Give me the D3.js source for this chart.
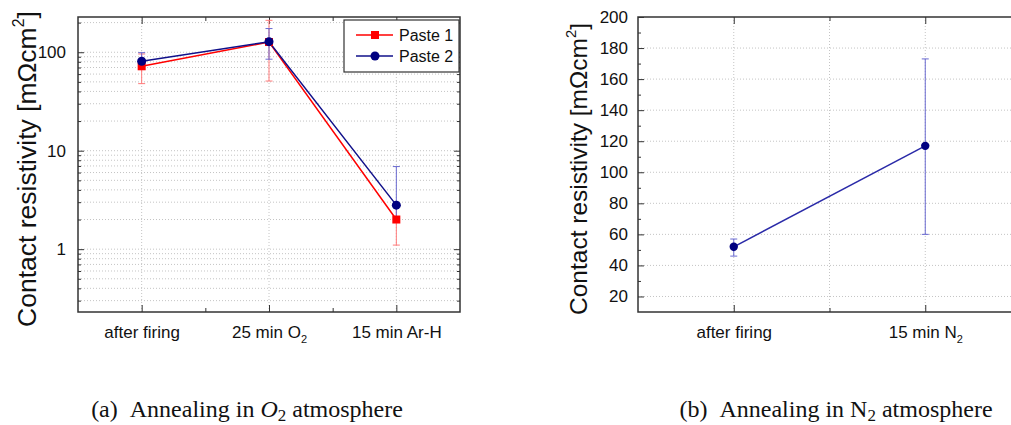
<!DOCTYPE html>
<meta charset="utf-8">
<script src="https://d3js.org/d3.v7.min.js"></script>
<style>
  body { margin: 0; background: #fff; }
  text { font-family: "Liberation Sans", Arial, sans-serif; fill: #111; }
  .grid line { stroke: #c4c4c4; stroke-width: 1; stroke-dasharray: 1,2; }
  .tk line { stroke: #333; stroke-width: 1; }
  .tk path { display: none; }
  .caption { font-family: "Liberation Serif", "Times New Roman", serif; font-size: 24px; }
</style>
<div id="chart"></div>
<script>

// ---- data ----
// (a) O2 anneal, log axis
var catsA = ["after firing", "25 min O_2", "15 min Ar-H"];
var paste1 = [72, 127, 2.0];
var paste1Lo = [48, 51, 1.1];
var paste1Hi = [96, 211, 2.9];
var paste2 = [81, 128, 2.8];
var paste2Lo = [67, 85, 2.0];
var paste2Hi = [99, 174, 6.9];
var majorA = [1, 10, 100];

// (b) N2 anneal, linear axis
var catsB = ["after firing", "15 min N_2"];
var n2 = [52, 117];
var n2Lo = [46, 60];
var n2Hi = [57, 173];
var ticksB = [20, 40, 60, 80, 100, 120, 140, 160, 180, 200];

var svg = d3.select("#chart")
  .append("svg")
    .attr("width", 1011)
    .attr("height", 425);

// write "xx_2" as text with a subscript
function subText(sel, str, size) {
  var parts = str.split("_");
  sel.text(null);
  sel.append("tspan").text(parts[0]);
  if (parts.length > 1) {
    sel.append("tspan").attr("dy", 5).style("font-size", size + "px").text(parts[1]);
  }
}

function ylabel(x, y, size) {
  var t = svg.append("text")
    .attr("transform", "translate(" + x + "," + y + ") rotate(-90)")
    .attr("text-anchor", "middle")
    .style("font-size", size + "px");
  t.append("tspan").text("Contact resistivity [m\u03A9cm");
  t.append("tspan").attr("dy", -size * 0.45).style("font-size", (size * 0.6) + "px").text("2");
  t.append("tspan").attr("dy", size * 0.45).text("]");
}

function errorBars(g, x, y, vals, lo, hi, color) {
  vals.forEach(function(v, i) {
    var cx = x(i + 1);
    g.append("line").attr("x1", cx).attr("x2", cx).attr("y1", y(lo[i])).attr("y2", y(hi[i]))
      .attr("stroke", color).attr("stroke-width", 1);
    [lo[i], hi[i]].forEach(function(e) {
      g.append("line").attr("x1", cx - 3.5).attr("x2", cx + 3.5).attr("y1", y(e)).attr("y2", y(e))
        .attr("stroke", color).attr("stroke-width", 1);
    });
  });
}

// ================= panel (a) =================
var xa = d3.scaleLinear().domain([0.5, 3.5]).range([78, 460]);
var ya = d3.scaleLog().domain([0.23, 228]).range([312, 17]);
var ga = svg.append("g");

// grid
var allA = ya.ticks();
ga.append("g").attr("class", "grid").selectAll("line")
  .data(allA).enter().append("line")
    .attr("x1", xa(0.5)).attr("x2", xa(3.5))
    .attr("y1", function(d) { return ya(d); }).attr("y2", function(d) { return ya(d); });
ga.append("g").attr("class", "grid").selectAll("line")
  .data([1, 2, 3]).enter().append("line")
    .attr("x1", function(d) { return xa(d); }).attr("x2", function(d) { return xa(d); })
    .attr("y1", 17).attr("y2", 312);

// ticks (all pointing inward)
var minorA = allA.filter(function(d) { return majorA.indexOf(d) < 0; });
ga.append("g").attr("class", "tk").attr("transform", "translate(78,0)")
  .call(d3.axisLeft(ya).tickValues(majorA).tickSize(-6).tickPadding(12).tickFormat(d3.format("d")))
  .selectAll("text").style("font-size", "17px");
ga.append("g").attr("class", "tk").attr("transform", "translate(78,0)")
  .call(d3.axisLeft(ya).tickValues(minorA).tickSize(-3).tickFormat(""));
ga.append("g").attr("class", "tk").attr("transform", "translate(460,0)")
  .call(d3.axisRight(ya).tickValues(majorA).tickSize(-6).tickFormat(""));
ga.append("g").attr("class", "tk").attr("transform", "translate(460,0)")
  .call(d3.axisRight(ya).tickValues(minorA).tickSize(-3).tickFormat(""));

var xaxA = ga.append("g").attr("class", "tk").attr("transform", "translate(0,312)")
  .call(d3.axisBottom(xa).tickValues([1, 2, 3]).tickSize(-7).tickPadding(14)
    .tickFormat(function(d) { return catsA[d - 1]; }));
xaxA.selectAll("text").style("font-size", "17px")
  .each(function(d) { subText(d3.select(this), catsA[d - 1], 11); });
ga.append("g").attr("class", "tk").attr("transform", "translate(0,312)")
  .call(d3.axisBottom(xa).tickValues([1.5, 2.5]).tickSize(-4).tickFormat(""));
ga.append("g").attr("class", "tk").attr("transform", "translate(0,17)")
  .call(d3.axisTop(xa).tickValues([1, 2, 3]).tickSize(-7).tickFormat(""));
ga.append("g").attr("class", "tk").attr("transform", "translate(0,17)")
  .call(d3.axisTop(xa).tickValues([1.5, 2.5]).tickSize(-4).tickFormat(""));

// frame
ga.append("rect").attr("x", 78).attr("y", 17).attr("width", 382).attr("height", 295)
  .attr("fill", "none").attr("stroke", "#333").attr("stroke-width", 1.5);

// error bars
errorBars(ga, xa, ya, paste1, paste1Lo, paste1Hi, "#ff7a7a");
errorBars(ga, xa, ya, paste2, paste2Lo, paste2Hi, "#6a6ad0");

var lineA = function(vals) {
  return d3.line().x(function(d, i) { return xa(i + 1); }).y(function(d) { return ya(d); })(vals);
};
ga.append("path").attr("d", lineA(paste1)).attr("fill", "none").attr("stroke", "#ff0000").attr("stroke-width", 1.5);
ga.append("path").attr("d", lineA(paste2)).attr("fill", "none").attr("stroke", "#10108a").attr("stroke-width", 1.5);

ga.selectAll(".p1").data(paste1).enter().append("rect")
  .attr("x", function(d, i) { return xa(i + 1) - 4; })
  .attr("y", function(d) { return ya(d) - 4; })
  .attr("width", 8).attr("height", 8).attr("fill", "#ff0000");
ga.selectAll(".p2").data(paste2).enter().append("circle")
  .attr("cx", function(d, i) { return xa(i + 1); })
  .attr("cy", function(d) { return ya(d); })
  .attr("r", 4.5).attr("fill", "#000080");

// legend
var leg = ga.append("g");
leg.append("rect").attr("x", 344).attr("y", 20).attr("width", 115).attr("height", 52)
  .attr("fill", "#fff").attr("stroke", "#333").attr("stroke-width", 1.2);
leg.append("line").attr("x1", 356).attr("x2", 393).attr("y1", 35).attr("y2", 35).attr("stroke", "#ff0000").attr("stroke-width", 1.5);
leg.append("rect").attr("x", 371).attr("y", 31).attr("width", 8).attr("height", 8).attr("fill", "#ff0000");
leg.append("text").attr("x", 399).attr("y", 41).style("font-size", "16px").text("Paste 1");
leg.append("line").attr("x1", 356).attr("x2", 393).attr("y1", 56).attr("y2", 56).attr("stroke", "#10108a").attr("stroke-width", 1.5);
leg.append("circle").attr("cx", 375).attr("cy", 56).attr("r", 4.5).attr("fill", "#000080");
leg.append("text").attr("x", 399).attr("y", 62).style("font-size", "16px").text("Paste 2");

ylabel(36, 169, 26.5);

// ================= panel (b) =================
var xb = d3.scaleLinear().domain([0.5, 2.5]).range([638, 1021]);
var yb = d3.scaleLinear().domain([10, 200]).range([312, 17]);
var gb = svg.append("g");

gb.append("g").attr("class", "grid").selectAll("line")
  .data(ticksB.slice(0, -1)).enter().append("line")
    .attr("x1", xb(0.5)).attr("x2", xb(2.5))
    .attr("y1", function(d) { return yb(d); }).attr("y2", function(d) { return yb(d); });
gb.append("g").attr("class", "grid").selectAll("line")
  .data([1, 1.5, 2]).enter().append("line")
    .attr("x1", function(d) { return xb(d); }).attr("x2", function(d) { return xb(d); })
    .attr("y1", 17).attr("y2", 312);

var minorB = d3.range(30, 200, 20);
gb.append("g").attr("class", "tk").attr("transform", "translate(638,0)")
  .call(d3.axisLeft(yb).tickValues(ticksB).tickSize(-6).tickPadding(10).tickFormat(d3.format("d")))
  .selectAll("text").style("font-size", "17px");
gb.append("g").attr("class", "tk").attr("transform", "translate(638,0)")
  .call(d3.axisLeft(yb).tickValues(minorB).tickSize(-3).tickFormat(""));

var xaxB = gb.append("g").attr("class", "tk").attr("transform", "translate(0,312)")
  .call(d3.axisBottom(xb).tickValues([1, 2]).tickSize(-7).tickPadding(14)
    .tickFormat(function(d) { return catsB[d - 1]; }));
xaxB.selectAll("text").style("font-size", "17px")
  .each(function(d) { subText(d3.select(this), catsB[d - 1], 11); });
gb.append("g").attr("class", "tk").attr("transform", "translate(0,312)")
  .call(d3.axisBottom(xb).tickValues([1.5]).tickSize(-4).tickFormat(""));
gb.append("g").attr("class", "tk").attr("transform", "translate(0,17)")
  .call(d3.axisTop(xb).tickValues([1, 2]).tickSize(-7).tickFormat(""));
gb.append("g").attr("class", "tk").attr("transform", "translate(0,17)")
  .call(d3.axisTop(xb).tickValues([1.5]).tickSize(-4).tickFormat(""));

gb.append("rect").attr("x", 638).attr("y", 17).attr("width", 383).attr("height", 295)
  .attr("fill", "none").attr("stroke", "#333").attr("stroke-width", 1.5);

errorBars(gb, xb, yb, n2, n2Lo, n2Hi, "#6a6ad0");
gb.append("path")
  .attr("d", d3.line().x(function(d, i) { return xb(i + 1); }).y(function(d) { return yb(d); })(n2))
  .attr("fill", "none").attr("stroke", "#2a2aa8").attr("stroke-width", 1.5);
gb.selectAll(".pn").data(n2).enter().append("circle")
  .attr("cx", function(d, i) { return xb(i + 1); })
  .attr("cy", function(d) { return yb(d); })
  .attr("r", 4.2).attr("fill", "#000080");

ylabel(587, 169, 24.5);

// ================= captions =================
var capA = svg.append("text").attr("class", "caption").attr("x", 247).attr("y", 417).attr("text-anchor", "middle");
capA.append("tspan").text("(a)\u2002Annealing in ");
capA.append("tspan").style("font-style", "italic").text("O");
capA.append("tspan").attr("dy", 4).style("font-size", "17px").text("2");
capA.append("tspan").attr("dy", -4).text(" atmosphere");

var capB = svg.append("text").attr("class", "caption").attr("x", 836).attr("y", 417).attr("text-anchor", "middle");
capB.append("tspan").text("(b)\u2002Annealing in N");
capB.append("tspan").attr("dy", 4).style("font-size", "17px").text("2");
capB.append("tspan").attr("dy", -4).text(" atmosphere");

</script>
